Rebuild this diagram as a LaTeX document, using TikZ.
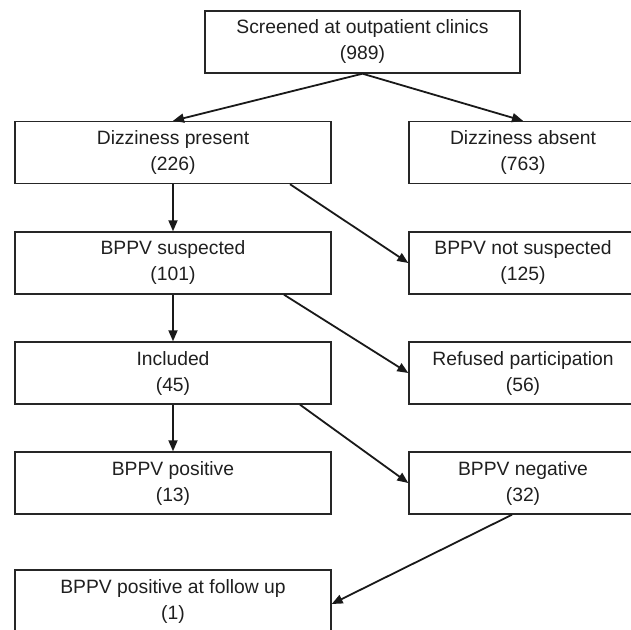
\documentclass[tikz,border=0pt]{standalone}
\usepackage{fontspec}
\setmainfont{Liberation Sans}
\usetikzlibrary{arrows.meta}
\begin{document}
\begin{tikzpicture}[x=1pt,y=-1pt,
  box/.style={draw=black!85, line width=1.4pt, minimum height=62pt, inner sep=0pt,
    align=center, font=\fontsize{19.3}{26}\selectfont, text=black!88},
  lbox/.style={box, minimum width=316pt},
  rbox/.style={box, minimum width=228pt},
  arr/.style={line width=1.8pt, draw=black!90, -{Triangle[length=11pt,width=9pt]}}]
\path[use as bounding box, clip] (0,0) rectangle (631,629);

\node[lbox, minimum width=315pt] (top) at (362.5,42) {Screened at outpatient clinics\\(989)};
\node[lbox] (dp)  at (173,152.5) {Dizziness present\\(226)};
\node[rbox] (da)  at (523,152.5) {Dizziness absent\\(763)};
\node[lbox] (bs)  at (173,263) {BPPV suspected\\(101)};
\node[rbox] (bns) at (523,263) {BPPV not suspected\\(125)};
\node[lbox] (inc) at (173,373) {Included\\(45)};
\node[rbox] (ref) at (523,373) {Refused participation\\(56)};
\node[lbox] (bpos) at (173,483) {BPPV positive\\(13)};
\node[rbox] (bneg) at (523,483) {BPPV negative\\(32)};
\node[lbox] (fu)  at (173,601) {BPPV positive at follow up\\(1)};

\draw[arr] (top.south) -- (dp.north);
\draw[arr] (top.south) -- (da.north);
\draw[arr] (dp.south) -- (bs.north);
\draw[arr] ([xshift=117pt]dp.south) -- (bns.west);
\draw[arr] (bs.south) -- (inc.north);
\draw[arr] ([xshift=111pt]bs.south) -- (ref.west);
\draw[arr] (inc.south) -- (bpos.north);
\draw[arr] ([xshift=127pt]inc.south) -- (bneg.west);
\draw[arr] ([xshift=-11pt]bneg.south) -- ([yshift=-3pt]fu.east);
\end{tikzpicture}
\end{document}
